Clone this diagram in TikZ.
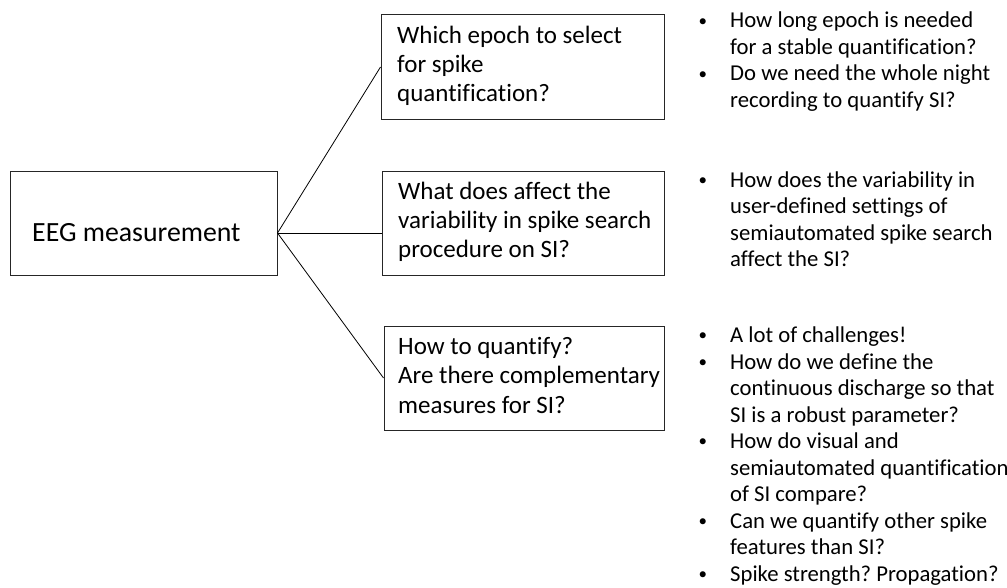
\documentclass[tikz,border=0pt]{standalone}
\usepackage{fontspec}
\setmainfont[Ligatures=NoCommon]{Carlito}
\frenchspacing
\begin{document}
\begin{tikzpicture}[x=1pt,y=-1pt,
  box/.style={draw=black!85, line width=1pt, inner sep=0pt},
  conn/.style={draw=black, line width=0.8pt},
  boxtext/.style={font=\fontsize{25}{29.3}\selectfont, align=left, anchor=base west, inner sep=0pt},
  bullets/.style={font=\fontsize{22.7}{26.5}\selectfont, align=left, anchor=base west, inner sep=0pt}]
\useasboundingbox (0,0) rectangle (1007,588);
\newcommand{\bl}{\makebox[34pt][l]{\hspace{2.5pt}\raisebox{1.6pt}{\fontsize{17}{17}\selectfont •}}}
\newcommand{\ind}{\hspace*{34pt}}
% boxes
\node[box, minimum width=267pt, minimum height=104pt] (eeg) at (143.5,224) {};
\node[box, minimum width=283pt, minimum height=105pt] (b1) at (522.5,67) {};
\node[box, minimum width=282pt, minimum height=104pt] (b2) at (523,224) {};
\node[box, minimum width=280pt, minimum height=104pt] (b3) at (524,378) {};
% texts
\node[boxtext, font=\fontsize{27.8}{32}\selectfont] (t0) at (32,242) {EEG measurement};
\node[boxtext] (t1) at (397,102) {Which epoch to select\\for spike\\quantification?};
\node[boxtext] (t2) at (398,258) {What does affect the\\variability in spike search\\procedure on SI?};
\node[boxtext] (t3) at (398,413) {How to quantify?\\Are there complementary\\measures for SI?};
% connectors
\coordinate (J) at (eeg.east |- 0,233);
\draw[conn] (J) -- (b1.west);
\draw[conn] (J) -- (J -| b2.west);
\draw[conn] (J) -- (b3.west);
% bullets
\node[bullets] (l1) at (696,107.5) {\bl How long epoch is needed\\\ind for a stable quantification?\\\bl Do we need the whole night\\\ind recording to quantify SI?};
\node[bullets] (l2) at (696,266.5) {\bl How does the variability in\\\ind user-defined settings of\\\ind semiautomated spike search\\\ind affect the SI?};
\node[bullets] (l3) at (696,581) {\bl A lot of challenges!\\\bl How do we define the\\\ind continuous discharge so that\\\ind SI is a robust parameter?\\\bl How do visual and\\\ind semiautomated quantification\\\ind of SI compare?\\\bl Can we quantify other spike\\\ind features than SI?\\\bl Spike strength? Propagation?};
\end{tikzpicture}
\end{document}
